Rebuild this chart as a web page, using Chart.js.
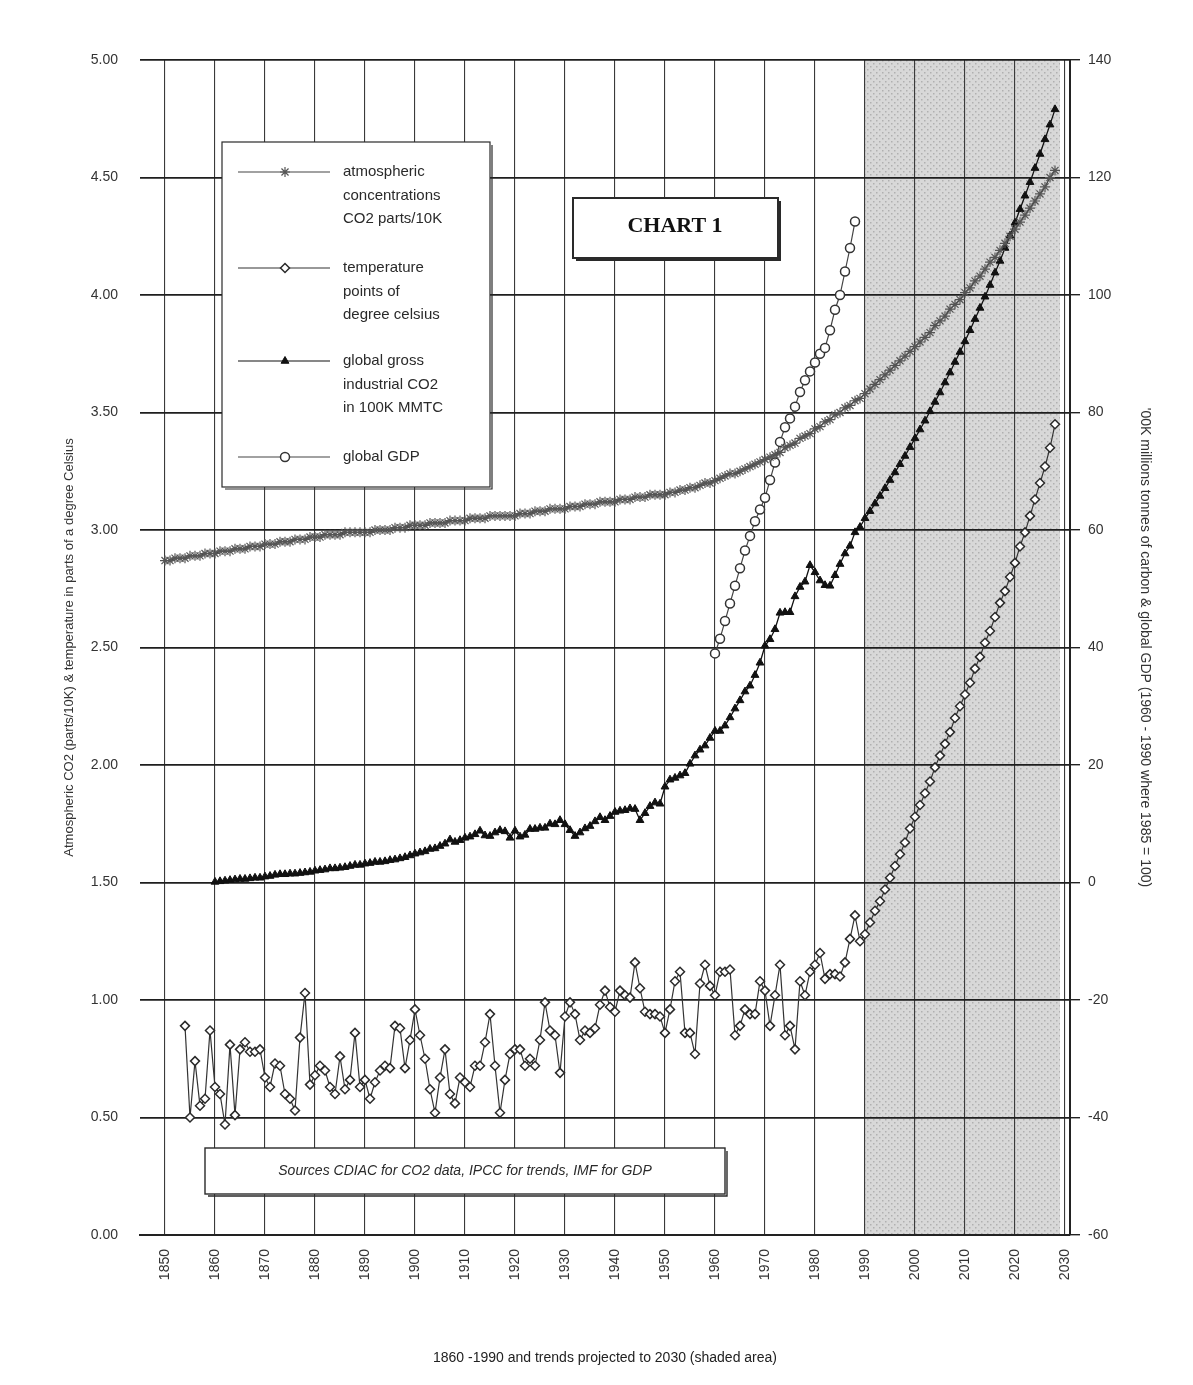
<!DOCTYPE html>
<html>
<head>
<meta charset="utf-8">
<title>Chart 1</title>
<script src="https://cdn.jsdelivr.net/npm/chart.js@4.4.1/dist/chart.umd.min.js"></script>
<style>
  html, body { margin: 0; padding: 0; background: #fff; }
</style>
</head>
<body>
<canvas id="chart1" width="1193" height="1385"></canvas>
<script>
// x axis tick labels (decades)
const xTickYears = [1850, 1860, 1870, 1880, 1890, 1900, 1910, 1920, 1930, 1940,
  1950, 1960, 1970, 1980, 1990, 2000, 2010, 2020, 2030];

// atmospheric CO2, parts/10K (left axis), yearly from 1850
const co2ConcStart = 1850;
const co2Conc = [
  2.87, 2.87, 2.88, 2.88, 2.88, 2.89, 2.89, 2.89, 2.90, 2.90,
  2.90, 2.91, 2.91, 2.91, 2.92, 2.92, 2.92, 2.93, 2.93, 2.93,
  2.94, 2.94, 2.94, 2.95, 2.95, 2.95, 2.96, 2.96, 2.96, 2.97,
  2.97, 2.97, 2.98, 2.98, 2.98, 2.98, 2.99, 2.99, 2.99, 2.99,
  2.99, 2.99, 3.00, 3.00, 3.00, 3.00, 3.01, 3.01, 3.01, 3.02,
  3.02, 3.02, 3.02, 3.03, 3.03, 3.03, 3.03, 3.04, 3.04, 3.04,
  3.04, 3.05, 3.05, 3.05, 3.05, 3.06, 3.06, 3.06, 3.06, 3.06,
  3.06, 3.07, 3.07, 3.07, 3.08, 3.08, 3.08, 3.09, 3.09, 3.09,
  3.09, 3.10, 3.10, 3.10, 3.11, 3.11, 3.11, 3.12, 3.12, 3.12,
  3.12, 3.13, 3.13, 3.13, 3.14, 3.14, 3.14, 3.15, 3.15, 3.15,
  3.15, 3.16, 3.16, 3.17, 3.17, 3.18, 3.18, 3.19, 3.20, 3.20,
  3.21, 3.22, 3.23, 3.24, 3.24, 3.25, 3.26, 3.27, 3.28, 3.29,
  3.30, 3.31, 3.32, 3.33, 3.35, 3.36, 3.37, 3.39, 3.40, 3.41,
  3.43, 3.44, 3.46, 3.47, 3.49, 3.50, 3.52, 3.53, 3.55, 3.56,
  3.58, 3.60, 3.62, 3.64, 3.66, 3.68, 3.70, 3.72, 3.74, 3.76,
  3.78, 3.80, 3.82, 3.84, 3.87, 3.89, 3.91, 3.94, 3.96, 3.98,
  4.01, 4.03, 4.06, 4.08, 4.11, 4.14, 4.16, 4.19, 4.22, 4.25,
  4.28, 4.31, 4.34, 4.37, 4.40, 4.43, 4.46, 4.50, 4.53
];

// temperature, points of a degree (left axis), yearly from 1854, trend after 1989
const tempStart = 1854;
const temperature = [
  0.89, 0.50, 0.74, 0.55, 0.58, 0.87, 0.63, 0.60, 0.47, 0.81,
  0.51, 0.79, 0.82, 0.78, 0.78, 0.79, 0.67, 0.63, 0.73, 0.72,
  0.60, 0.58, 0.53, 0.84, 1.03, 0.64, 0.68, 0.72, 0.70, 0.63,
  0.60, 0.76, 0.62, 0.66, 0.86, 0.63, 0.66, 0.58, 0.65, 0.70,
  0.72, 0.71, 0.89, 0.88, 0.71, 0.83, 0.96, 0.85, 0.75, 0.62,
  0.52, 0.67, 0.79, 0.60, 0.56, 0.67, 0.65, 0.63, 0.72, 0.72,
  0.82, 0.94, 0.72, 0.52, 0.66, 0.77, 0.79, 0.79, 0.72, 0.75,
  0.72, 0.83, 0.99, 0.87, 0.85, 0.69, 0.93, 0.99, 0.94, 0.83,
  0.87, 0.86, 0.88, 0.98, 1.04, 0.97, 0.95, 1.04, 1.02, 1.01,
  1.16, 1.05, 0.95, 0.94, 0.94, 0.93, 0.86, 0.96, 1.08, 1.12,
  0.86, 0.86, 0.77, 1.07, 1.15, 1.06, 1.02, 1.12, 1.12, 1.13,
  0.85, 0.89, 0.96, 0.94, 0.94, 1.08, 1.04, 0.89, 1.02, 1.15,
  0.85, 0.89, 0.79, 1.08, 1.02, 1.12, 1.15, 1.20, 1.09, 1.11,
  1.11, 1.10, 1.16, 1.26, 1.36, 1.25,
  1.28, 1.33, 1.38, 1.42, 1.47, 1.52, 1.57, 1.62, 1.67, 1.73,
  1.78, 1.83, 1.88, 1.93, 1.99, 2.04, 2.09, 2.14, 2.20, 2.25,
  2.30, 2.35, 2.41, 2.46, 2.52, 2.57, 2.63, 2.69, 2.74, 2.80,
  2.86, 2.93, 2.99, 3.06, 3.13, 3.20, 3.27, 3.35, 3.45
];

// global gross industrial CO2 (right axis), yearly from 1860
const indCo2Start = 1860;
const industrialCo2 = [
  0.1, 0.2, 0.3, 0.4, 0.5, 0.6, 0.6, 0.7, 0.8, 0.8,
  1.0, 1.1, 1.3, 1.4, 1.4, 1.5, 1.5, 1.6, 1.7, 1.8,
  2.0, 2.1, 2.2, 2.4, 2.4, 2.5, 2.6, 2.8, 3.0, 3.0,
  3.2, 3.3, 3.5, 3.5, 3.6, 3.8, 3.9, 4.1, 4.3, 4.6,
  4.9, 5.1, 5.3, 5.7, 5.8, 6.2, 6.6, 7.3, 6.9, 7.2,
  7.6, 7.8, 8.2, 8.8, 8.0, 7.9, 8.5, 8.9, 8.7, 7.6,
  8.8, 7.8, 8.1, 9.1, 9.1, 9.3, 9.3, 10.0, 9.9, 10.6,
  9.9, 8.9, 7.9, 8.5, 9.2, 9.6, 10.4, 11.1, 10.6, 11.3,
  12.0, 12.2, 12.3, 12.6, 12.5, 10.6, 11.8, 13.0, 13.6, 13.4,
  16.3, 17.5, 17.8, 18.2, 18.6, 20.2, 21.6, 22.6, 23.3, 24.6,
  25.8, 25.8, 26.7, 28.1, 29.6, 31.0, 32.5, 33.5, 35.3, 37.4,
  40.3, 41.4, 43.1, 45.9, 46.0, 46.0, 48.7, 50.3, 51.2, 54.0,
  52.8, 51.4, 50.6, 50.5, 52.3, 54.2, 56.0, 57.3, 59.6, 60.5,
  62.0, 63.2, 64.5, 65.8, 67.1, 68.5, 69.8, 71.2, 72.6, 74.1,
  75.6, 77.1, 78.6, 80.2, 81.8, 83.4, 85.1, 86.8, 88.6, 90.3,
  92.1, 94.0, 95.9, 97.8, 99.7, 101.7, 103.8, 105.8, 108.0, 110.1,
  112.3, 114.6, 116.9, 119.2, 121.6, 124.0, 126.5, 129.0, 131.6
];

// global GDP index, 1985 = 100 (right axis), yearly from 1960
const gdpStart = 1960;
const globalGdp = [
  39.0, 41.5, 44.5, 47.5, 50.5, 53.5, 56.5, 59.0, 61.5, 63.5,
  65.5, 68.5, 71.5, 75.0, 77.5, 79.0, 81.0, 83.5, 85.5, 87.0,
  88.5, 90.0, 91.0, 94.0, 97.5, 100.0, 104.0, 108.0, 112.5
];

const shadedFrom = 1990;
const shadedTo = 2029;

const seriesLabels = [
  ['atmospheric', 'concentrations', 'CO2 parts/10K'],
  ['temperature', 'points of', 'degree celsius'],
  ['global gross', 'industrial CO2', 'in 100K MMTC'],
  ['global GDP']
];

function toPoints(firstYear, values) {
  return values.map((v, i) => ({ x: firstYear + i, y: v }));
}

const inkColor = '#2a2a2a';
const sansFont = 'Liberation Sans, Arial, sans-serif';

// dotted grey fill for the projected period
function makeShadePattern(ctx) {
  const c = document.createElement('canvas');
  c.width = 6; c.height = 6;
  const p = c.getContext('2d');
  p.fillStyle = '#d8d8d8';
  p.fillRect(0, 0, 6, 6);
  p.fillStyle = '#b0b0b0';
  p.fillRect(0, 0, 1.5, 1.5);
  p.fillRect(3, 3, 1.5, 1.5);
  return ctx.createPattern(c, 'repeat');
}

const backdropPlugin = {
  id: 'backdrop',
  beforeDraw(chart) {
    const { ctx, chartArea, scales } = chart;
    ctx.save();
    ctx.fillStyle = '#fff';
    ctx.fillRect(0, 0, chart.width, chart.height);
    const x0 = scales.x.getPixelForValue(shadedFrom);
    const x1 = scales.x.getPixelForValue(shadedTo);
    ctx.fillStyle = makeShadePattern(ctx);
    ctx.fillRect(x0, chartArea.top, x1 - x0, chartArea.bottom - chartArea.top);
    ctx.restore();
  }
};

function boxWithShadow(ctx, x, y, w, h, lw) {
  ctx.fillStyle = '#fff';
  ctx.fillRect(x, y, w, h);
  ctx.strokeStyle = inkColor;
  ctx.lineWidth = lw;
  ctx.strokeRect(x, y, w, h);
  ctx.beginPath();
  ctx.moveTo(x + 3, y + h + 2);
  ctx.lineTo(x + w + 2, y + h + 2);
  ctx.lineTo(x + w + 2, y + 3);
  ctx.stroke();
}

const overlayPlugin = {
  id: 'overlay',
  afterDraw(chart) {
    const { ctx } = chart;
    ctx.save();

    // legend box
    boxWithShadow(ctx, 222, 142, 268, 345, 1.2);
    const rowY = [172, 268, 361, 457];
    ctx.font = '15px ' + sansFont;
    ctx.textBaseline = 'middle';
    chart.data.datasets.forEach((ds, i) => {
      const y = rowY[i];
      ctx.strokeStyle = ds.borderColor;
      ctx.lineWidth = 1.2;
      ctx.beginPath();
      ctx.moveTo(238, y);
      ctx.lineTo(330, y);
      ctx.stroke();
      ctx.fillStyle = ds.pointBackgroundColor;
      ctx.strokeStyle = ds.pointBorderColor;
      ctx.lineWidth = ds.pointBorderWidth;
      Chart.helpers.drawPoint(ctx, {
        pointStyle: ds.pointStyle, radius: ds.pointRadius, rotation: 0,
        borderWidth: ds.pointBorderWidth
      }, 285, y);
      ctx.fillStyle = inkColor;
      seriesLabels[i].forEach((line, j) => {
        ctx.fillText(line, 343, y + j * 23.5);
      });
    });

    // chart title
    boxWithShadow(ctx, 573, 198, 205, 60, 2);
    ctx.fillStyle = '#111';
    ctx.font = 'bold 22px Liberation Serif, Times New Roman, serif';
    ctx.textAlign = 'center';
    ctx.fillText('CHART 1', 675, 226);

    // sources note
    boxWithShadow(ctx, 205, 1148, 520, 46, 1.4);
    ctx.font = 'italic 14px ' + sansFont;
    ctx.fillStyle = inkColor;
    ctx.fillText('Sources CDIAC for CO2 data, IPCC for trends, IMF for GDP', 465, 1171);
    ctx.restore();
  }
};

new Chart(document.getElementById('chart1'), {
  type: 'line',
  data: {
    datasets: [
      {
        label: 'atmospheric concentrations CO2 parts/10K',
        data: toPoints(co2ConcStart, co2Conc),
        yAxisID: 'y',
        borderColor: '#444',
        borderWidth: 1.3,
        pointStyle: 'star',
        pointRadius: 5,
        pointBorderWidth: 1.2,
        pointBorderColor: '#555',
        pointBackgroundColor: '#fff'
      },
      {
        label: 'temperature points of degree celsius',
        data: toPoints(tempStart, temperature),
        yAxisID: 'y',
        borderColor: '#333',
        borderWidth: 1.2,
        pointStyle: 'rectRot',
        pointRadius: 4.5,
        pointBorderWidth: 1.5,
        pointBorderColor: '#2a2a2a',
        pointBackgroundColor: '#fff'
      },
      {
        label: 'global gross industrial CO2 in 100K MMTC',
        data: toPoints(indCo2Start, industrialCo2),
        yAxisID: 'y1',
        borderColor: '#111',
        borderWidth: 1.3,
        pointStyle: 'triangle',
        pointRadius: 4.5,
        pointBorderWidth: 1,
        pointBorderColor: '#111',
        pointBackgroundColor: '#111'
      },
      {
        label: 'global GDP',
        data: toPoints(gdpStart, globalGdp),
        yAxisID: 'y1',
        borderColor: '#444',
        borderWidth: 1.2,
        pointStyle: 'circle',
        pointRadius: 4.5,
        pointBorderWidth: 1.5,
        pointBorderColor: '#333',
        pointBackgroundColor: '#fff'
      }
    ]
  },
  options: {
    responsive: false,
    animation: false,
    layout: { padding: { top: 60, left: 0, right: 0, bottom: 0 } },
    plugins: {
      legend: { display: false },
      tooltip: { enabled: false }
    },
    scales: {
      x: {
        type: 'linear',
        min: 1845,
        max: 2031,
        afterBuildTicks: (s) => { s.ticks = xTickYears.map(v => ({ value: v })); },
        afterFit: (s) => { s.height = 150; },
        ticks: {
          autoSkip: false, minRotation: 90, maxRotation: 90, padding: 14,
          color: '#333', font: { size: 14, family: sansFont },
          callback: (v) => String(v)
        },
        grid: { color: '#3a3a3a', lineWidth: 1.1, drawTicks: false },
        border: { color: '#222', width: 2 },
        title: {
          display: true,
          text: '1860 -1990 and trends projected to 2030 (shaded area)',
          color: '#222', font: { size: 14, family: sansFont },
          padding: { top: 0, bottom: 18 }
        }
      },
      y: {
        position: 'left',
        min: 0,
        max: 5,
        afterFit: (s) => { s.width = 140; },
        ticks: {
          stepSize: 0.5, padding: 22, color: '#333',
          font: { size: 14, family: sansFont },
          callback: (v) => v.toFixed(2)
        },
        grid: { color: '#1e1e1e', lineWidth: 1.8, drawTicks: false },
        border: { display: false },
        title: {
          display: true,
          text: 'Atmospheric CO2 (parts/10K) & temperature in parts of a degree Celsius',
          color: '#333', font: { size: 13, family: sansFont },
          padding: { top: 62 }
        }
      },
      y1: {
        position: 'right',
        min: -60,
        max: 140,
        afterFit: (s) => { s.width = 123; },
        ticks: {
          stepSize: 20, padding: 8, color: '#333',
          font: { size: 14, family: sansFont }
        },
        grid: { drawOnChartArea: false, drawTicks: true, tickLength: 10, color: '#222', lineWidth: 1.4 },
        border: { color: '#222', width: 2 },
        title: {
          display: true,
          text: "'00K millions tonnes of carbon & global GDP (1960 - 1990 where 1985 = 100)",
          color: '#333', font: { size: 14, family: sansFont },
          padding: { top: 40 }
        }
      }
    }
  },
  plugins: [backdropPlugin, overlayPlugin]
});
</script>
</body>
</html>
